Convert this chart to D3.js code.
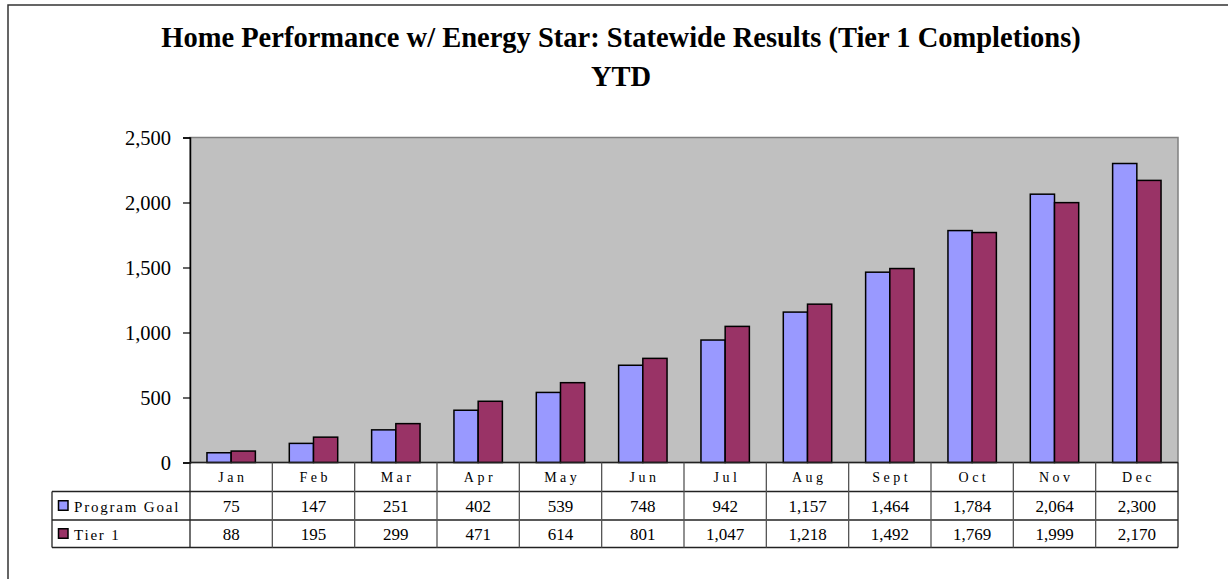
<!DOCTYPE html>
<html>
<head>
<meta charset="utf-8">
<script src="https://cdn.jsdelivr.net/npm/d3@7"></script>
<style>
  body { margin: 0; background: #fff; }
  svg { display: block; }
  text { font-family: "Liberation Serif", "Times New Roman", serif; fill: #000; }
</style>
</head>
<body>
<svg id="chart"></svg>
<script>
var W = 1228, H = 579;

// data
var months = ["Jan","Feb","Mar","Apr","May","Jun","Jul","Aug","Sept","Oct","Nov","Dec"];
var programGoal = [75,147,251,402,539,748,942,1157,1464,1784,2064,2300];
var tier1 = [88,195,299,471,614,801,1047,1218,1492,1769,1999,2170];
var seriesNames = ["Program Goal","Tier 1"];
var seriesColors = ["#9999FF","#993366"];
var yTicks = [0,500,1000,1500,2000,2500];
var titleLines = ["Home Performance w/ Energy Star: Statewide Results (Tier 1 Completions)","YTD"];

var plot = {left: 190, right: 1178, top: 137.5, bottom: 462.5};
var rowY = [462.5, 491.5, 520, 547.5]; // table row lines
var tableLeft = 52;

var svg = d3.select('#chart').attr('width', W).attr('height', H);

svg.append('rect').attr('width', W).attr('height', H).attr('fill', '#fff');

// outer frame (runs off the right and bottom edge)
svg.append('path')
  .attr('d', 'M8,' + (H + 5) + 'V5H' + (W + 5))
  .attr('fill', 'none').attr('stroke', '#333').attr('stroke-width', 1.5);

// title
svg.selectAll('text.title')
  .data(titleLines)
  .enter().append('text')
  .attr('class', 'title')
  .attr('x', 621)
  .attr('y', function(d, i){ return i == 0 ? 47 : 86; })
  .attr('text-anchor', 'middle')
  .style('font-weight', 'bold')
  .style('font-size', '28.5px')
  .text(function(d){ return d; });

var x = d3.scaleBand().domain(months).range([plot.left, plot.right]);
var y = d3.scaleLinear().domain([0, 2500]).range([plot.bottom, plot.top]);

// plot area
svg.append('rect')
  .attr('x', plot.left).attr('y', plot.top)
  .attr('width', plot.right - plot.left).attr('height', plot.bottom - plot.top)
  .attr('fill', '#C0C0C0').attr('stroke', '#808080').attr('stroke-width', 1.5);

// bars
var barW = x.bandwidth() * 0.294;
var offset = (x.bandwidth() - 2 * barW) / 2;
var series = [programGoal, tier1];
series.forEach(function(vals, s){
  svg.append('g').selectAll('rect')
    .data(vals)
    .enter().append('rect')
    .attr('x', function(d, i){ return x(months[i]) + offset + s * barW; })
    .attr('y', function(d){ return y(d); })
    .attr('width', barW)
    .attr('height', function(d){ return y(0) - y(d); })
    .attr('fill', seriesColors[s])
    .attr('stroke', '#000').attr('stroke-width', 1.5);
});

// y axis
var yAxis = svg.append('g')
  .attr('transform', 'translate(' + plot.left + ',0)')
  .call(d3.axisLeft(y).tickValues(yTicks).tickSize(7).tickPadding(12).tickFormat(d3.format(',')));
yAxis.select('.domain').attr('stroke', '#000').attr('stroke-width', 1.5);
yAxis.selectAll('.tick line').attr('stroke', '#000').attr('stroke-width', 1.2);
yAxis.selectAll('.tick text').style('font-size', '20.5px').style('font-family', '"Liberation Serif", serif');

// data table
var tbl = svg.append('g').attr('stroke', '#222').attr('stroke-width', 1.3);
tbl.append('line').attr('x1', plot.left).attr('x2', plot.right).attr('y1', rowY[0]).attr('y2', rowY[0]);
[1, 2, 3].forEach(function(r){
  tbl.append('line').attr('x1', tableLeft).attr('x2', plot.right).attr('y1', rowY[r]).attr('y2', rowY[r]);
});
tbl.append('line').attr('x1', tableLeft).attr('x2', tableLeft).attr('y1', rowY[1]).attr('y2', rowY[3]);
tbl.selectAll('line.col')
  .data(months.concat(['end']))
  .enter().append('line')
  .attr('class', 'col')
  .attr('x1', function(d, i){ return plot.left + i * x.step(); })
  .attr('x2', function(d, i){ return plot.left + i * x.step(); })
  .attr('y1', rowY[0]).attr('y2', rowY[3])
  .attr('stroke', function(d, i){ return (i == 0 || i == months.length) ? '#222' : '#555'; });

// month labels
var ls = 3.5;
svg.selectAll('text.month')
  .data(months)
  .enter().append('text')
  .attr('class', 'month')
  .attr('x', function(d){ return x(d) + x.bandwidth() / 2 + ls / 2; })
  .attr('y', 482)
  .attr('text-anchor', 'middle')
  .style('font-size', '14px')
  .style('letter-spacing', ls + 'px')
  .text(function(d){ return d; });

// values rows + legend
var fmt = d3.format(',');
series.forEach(function(vals, s){
  var cy = (rowY[s + 1] + rowY[s + 2]) / 2;
  svg.append('g').selectAll('text')
    .data(vals)
    .enter().append('text')
    .attr('x', function(d, i){ return x(months[i]) + x.bandwidth() / 2; })
    .attr('y', cy + 6)
    .attr('text-anchor', 'middle')
    .style('font-size', '17px')
    .text(function(d){ return fmt(d); });

  svg.append('rect')
    .attr('x', 58.5).attr('y', cy - 5)
    .attr('width', 9.5).attr('height', 9.5)
    .attr('fill', seriesColors[s]).attr('stroke', '#000').attr('stroke-width', 1.5);

  svg.append('text')
    .attr('x', 74).attr('y', cy + 6)
    .style('font-size', '15px')
    .style('letter-spacing', '1.8px')
    .text(seriesNames[s]);
});
</script>
</body>
</html>
